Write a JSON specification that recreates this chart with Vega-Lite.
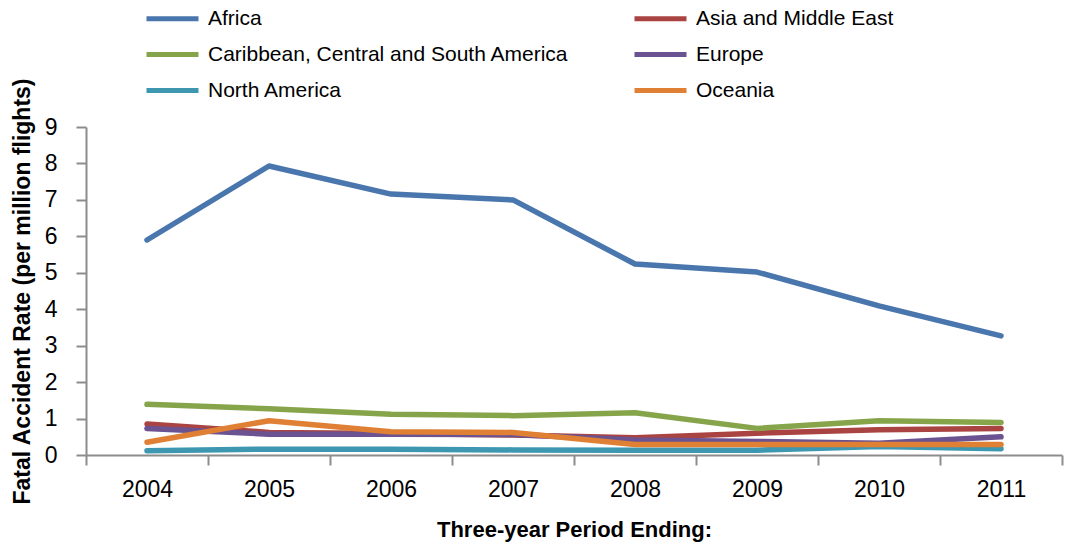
{
  "$schema": "https://vega.github.io/schema/vega-lite/v6.json",
  "width": 976,
  "height": 328,
  "autosize": {"type": "none"},
  "padding": {"left": 86, "top": 127, "right": 5, "bottom": 89},
  "background": "white",
  "config": {
    "view": {"stroke": null},
    "font": "Liberation Sans"
  },
  "data": {
    "values": [
      {"year": "2004", "region": "Africa", "rate": 5.90},
      {"year": "2005", "region": "Africa", "rate": 7.93},
      {"year": "2006", "region": "Africa", "rate": 7.16},
      {"year": "2007", "region": "Africa", "rate": 7.00},
      {"year": "2008", "region": "Africa", "rate": 5.24},
      {"year": "2009", "region": "Africa", "rate": 5.02},
      {"year": "2010", "region": "Africa", "rate": 4.09},
      {"year": "2011", "region": "Africa", "rate": 3.27},
      {"year": "2004", "region": "Asia and Middle East", "rate": 0.85},
      {"year": "2005", "region": "Asia and Middle East", "rate": 0.62},
      {"year": "2006", "region": "Asia and Middle East", "rate": 0.59},
      {"year": "2007", "region": "Asia and Middle East", "rate": 0.55},
      {"year": "2008", "region": "Asia and Middle East", "rate": 0.47},
      {"year": "2009", "region": "Asia and Middle East", "rate": 0.60},
      {"year": "2010", "region": "Asia and Middle East", "rate": 0.69},
      {"year": "2011", "region": "Asia and Middle East", "rate": 0.73},
      {"year": "2004", "region": "Caribbean, Central and South America", "rate": 1.39},
      {"year": "2005", "region": "Caribbean, Central and South America", "rate": 1.27},
      {"year": "2006", "region": "Caribbean, Central and South America", "rate": 1.12},
      {"year": "2007", "region": "Caribbean, Central and South America", "rate": 1.08},
      {"year": "2008", "region": "Caribbean, Central and South America", "rate": 1.16},
      {"year": "2009", "region": "Caribbean, Central and South America", "rate": 0.73},
      {"year": "2010", "region": "Caribbean, Central and South America", "rate": 0.94},
      {"year": "2011", "region": "Caribbean, Central and South America", "rate": 0.89},
      {"year": "2004", "region": "Europe", "rate": 0.73},
      {"year": "2005", "region": "Europe", "rate": 0.57},
      {"year": "2006", "region": "Europe", "rate": 0.57},
      {"year": "2007", "region": "Europe", "rate": 0.56},
      {"year": "2008", "region": "Europe", "rate": 0.41},
      {"year": "2009", "region": "Europe", "rate": 0.37},
      {"year": "2010", "region": "Europe", "rate": 0.32},
      {"year": "2011", "region": "Europe", "rate": 0.50},
      {"year": "2004", "region": "North America", "rate": 0.12},
      {"year": "2005", "region": "North America", "rate": 0.16},
      {"year": "2006", "region": "North America", "rate": 0.16},
      {"year": "2007", "region": "North America", "rate": 0.14},
      {"year": "2008", "region": "North America", "rate": 0.13},
      {"year": "2009", "region": "North America", "rate": 0.13},
      {"year": "2010", "region": "North America", "rate": 0.23},
      {"year": "2011", "region": "North America", "rate": 0.17},
      {"year": "2004", "region": "Oceania", "rate": 0.35},
      {"year": "2005", "region": "Oceania", "rate": 0.94},
      {"year": "2006", "region": "Oceania", "rate": 0.64},
      {"year": "2007", "region": "Oceania", "rate": 0.62},
      {"year": "2008", "region": "Oceania", "rate": 0.29},
      {"year": "2009", "region": "Oceania", "rate": 0.29},
      {"year": "2010", "region": "Oceania", "rate": 0.29},
      {"year": "2011", "region": "Oceania", "rate": 0.29}
    ]
  },
  "mark": {"type": "line", "strokeWidth": 5.5, "strokeCap": "round", "strokeJoin": "round"},
  "encoding": {
    "x": {
      "field": "year",
      "type": "ordinal",
      "bandPosition": 0.5,
      "scale": {"type": "band", "paddingInner": 0, "paddingOuter": 0},
      "axis": {
        "title": "Three-year Period Ending:",
        "titleFontSize": 22,
        "titleFontWeight": "bold",
        "titleColor": "#000000",
        "titlePadding": 18,
        "labelAngle": 0,
        "labelFontSize": 23,
        "labelColor": "#000000",
        "labelPadding": 13,
        "tickBand": "extent",
        "tickSize": 10,
        "tickColor": "#8c8c8c",
        "tickWidth": 2,
        "domainColor": "#8c8c8c",
        "domainWidth": 2,
        "grid": false
      }
    },
    "y": {
      "field": "rate",
      "type": "quantitative",
      "scale": {"domain": [0, 9], "nice": false},
      "axis": {
        "title": "Fatal Accident Rate (per million flights)",
        "titleFontSize": 23,
        "titleFontWeight": "bold",
        "titleColor": "#000000",
        "titlePadding": 10,
        "values": [0, 1, 2, 3, 4, 5, 6, 7, 8, 9],
        "labelFontSize": 23,
        "labelColor": "#000000",
        "labelPadding": 19,
        "tickSize": 10,
        "tickColor": "#8c8c8c",
        "tickWidth": 2,
        "domainColor": "#8c8c8c",
        "domainWidth": 2,
        "grid": false
      }
    },
    "color": {
      "field": "region",
      "type": "nominal",
      "scale": {
        "domain": ["Africa", "Asia and Middle East", "Caribbean, Central and South America", "Europe", "North America", "Oceania"],
        "range": ["#4a76ae", "#a94442", "#86a54a", "#6b5291", "#3d97b0", "#e08035"]
      },
      "legend": {
        "title": null,
        "orient": "none",
        "legendX": 71,
        "legendY": -124,
        "columns": 2,
        "direction": "horizontal",
        "columnPadding": 55,
        "rowPadding": 10,
        "symbolType": "M-2,0H2",
        "symbolSize": 676,
        "symbolStrokeWidth": 5,
        "symbolFillColor": "transparent",
        "labelFontSize": 21,
        "labelColor": "#000000",
        "labelOffset": 20,
        "labelLimit": 500
      }
    }
  }
}
